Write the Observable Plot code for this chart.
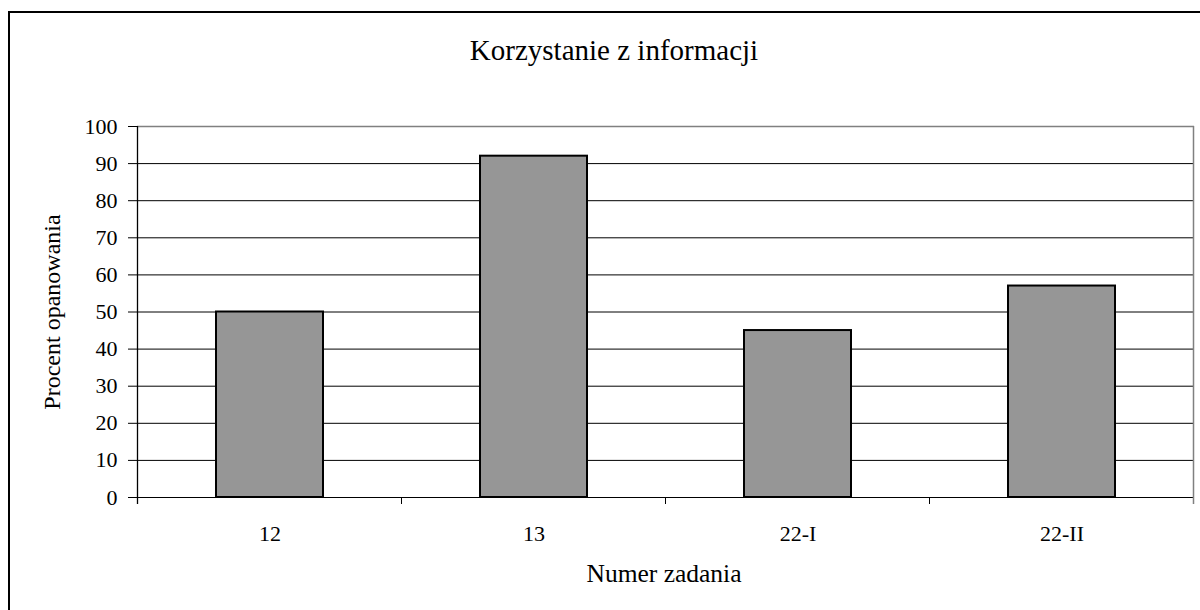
<!DOCTYPE html>
<html>
<head>
<meta charset="utf-8">
<script src="https://cdn.jsdelivr.net/npm/d3@7"></script>
<script src="https://cdn.jsdelivr.net/npm/@observablehq/plot@0.6"></script>
<style>
  html, body { margin: 0; padding: 0; background: #fff; overflow: hidden; }
  #wrap { position: relative; width: 1200px; height: 610px; overflow: hidden; }
  #border { position: absolute; left: 8px; top: 11px; width: 1400px; height: 800px;
            border-left: 2px solid #000; border-top: 2px solid #000; box-sizing: border-box; pointer-events: none; }
  #chart { position: absolute; left: 0; top: 0; }
</style>
</head>
<body>
<div id="wrap"><div id="chart"></div><div id="border"></div></div>
<script>
const titleText = "Korzystanie z informacji";
const xLabelText = "Numer zadania";
const yLabelText = "Procent opanowania";
const categories = ["12", "13", "22-I", "22-II"];
const values = [50, 92, 45, 57];
const yTicks = [0, 10, 20, 30, 40, 50, 60, 70, 80, 90, 100];

const data = categories.map((c, i) => ({cat: c, v: values[i]}));
const font = "'Liberation Serif', 'Times New Roman', serif";
const yMax = yTicks[yTicks.length - 1];

const chart = Plot.plot({
  width: 1200,
  height: 610,
  marginLeft: 137,
  marginRight: 6,
  marginTop: 126,
  marginBottom: 113,
  style: {fontFamily: font, background: "transparent", color: "#000"},
  x: {domain: categories, paddingInner: 0.595, paddingOuter: 0.2975},
  y: {domain: [0, yMax]},
  marks: [
    Plot.ruleY(yTicks.filter(t => t < yMax), {stroke: "#000", strokeWidth: 1}),
    Plot.ruleY([yMax], {stroke: "#808080", strokeWidth: 1.5}),
    Plot.barY(data, {x: "cat", y: "v", fill: "#969696", stroke: "#000", strokeWidth: 2}),
    Plot.ruleY([0], {stroke: "#000", strokeWidth: 1.2}),
    Plot.axisY({ticks: yTicks, tickSize: 9, tickPadding: 11, fontSize: 22, label: null, stroke: "#000", fill: "#000"}),
    Plot.axisX({tickSize: 0, tickPadding: 28, fontSize: 22, label: null, fill: "#000"}),
    Plot.text([titleText], {frameAnchor: "top", dx: -52, dy: -76, lineAnchor: "middle", fontSize: 29, fill: "#000"}),
    Plot.text([xLabelText], {frameAnchor: "bottom", dx: -2, dy: 76.5, lineAnchor: "middle", fontSize: 25.5, fill: "#000"}),
    Plot.text([yLabelText], {frameAnchor: "left", dx: -85, rotate: -90, lineAnchor: "middle", textAnchor: "middle", fontSize: 24, fill: "#000"})
  ]
});

// Category boundary ticks, left axis line and right edge, placed from the plot's own scales
(function () {
  const sx = chart.scale("x"), sy = chart.scale("y");
  const step = sx.step, bw = sx.bandwidth;
  const gap = (step - bw) / 2;
  const xs = categories.map(c => sx.apply(c) - gap);
  xs.push(sx.apply(categories[categories.length - 1]) + bw + gap);
  const y0 = sy.apply(0), y1 = sy.apply(yMax);
  const g = d3.select(chart).append("g");
  xs.forEach(xx => {
    g.append("line").attr("x1", xx).attr("x2", xx).attr("y1", y0).attr("y2", y0 + 7)
      .attr("stroke", "#000").attr("stroke-width", 1);
  });
  g.append("line").attr("x1", xs[0]).attr("x2", xs[0]).attr("y1", y1).attr("y2", y0 + 7)
    .attr("stroke", "#000").attr("stroke-width", 1.3);
  const xr = xs[xs.length - 1];
  g.append("line").attr("x1", xr).attr("x2", xr).attr("y1", y1).attr("y2", y0 + 7)
    .attr("stroke", "#808080").attr("stroke-width", 1.5);
})();

document.getElementById("chart").appendChild(chart);
</script>
</body>
</html>
